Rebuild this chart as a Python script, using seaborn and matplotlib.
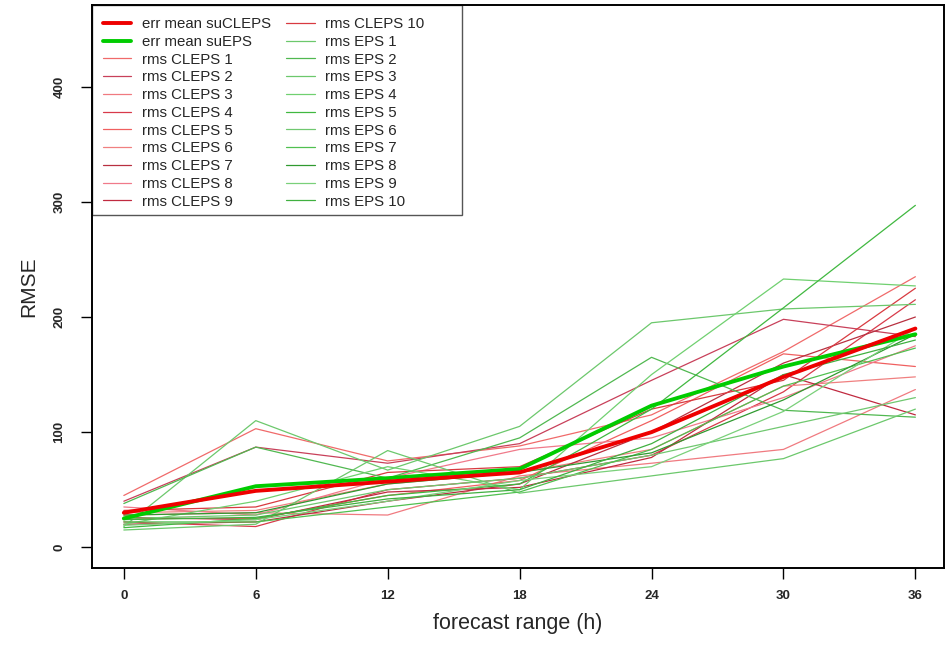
import matplotlib
matplotlib.use("Agg")
import matplotlib.pyplot as plt
from matplotlib.patches import Rectangle
import seaborn as sns

hours = [0, 6, 12, 18, 24, 30, 36]

mean_cleps = [30, 49, 57, 65, 100, 148, 190]
mean_eps = [25, 53, 60, 68, 123, 157, 185]

cleps = {
    "rms CLEPS 1": [45, 103, 75, 88, 115, 170, 235],
    "rms CLEPS 2": [40, 87, 73, 90, 145, 198, 183],
    "rms CLEPS 3": [28, 30, 28, 62, 73, 85, 137],
    "rms CLEPS 4": [22, 18, 50, 60, 80, 135, 215],
    "rms CLEPS 5": [25, 25, 45, 58, 110, 168, 157],
    "rms CLEPS 6": [30, 32, 55, 65, 85, 140, 148],
    "rms CLEPS 7": [20, 22, 40, 55, 100, 160, 200],
    "rms CLEPS 8": [35, 28, 60, 85, 95, 130, 175],
    "rms CLEPS 9": [26, 24, 48, 52, 78, 150, 115],
    "rms CLEPS 10": [32, 35, 65, 70, 120, 145, 225],
}
eps = {
    "rms EPS 1": [18, 110, 67, 105, 195, 207, 211],
    "rms EPS 2": [38, 87, 60, 95, 165, 119, 113],
    "rms EPS 3": [15, 20, 84, 47, 62, 77, 120],
    "rms EPS 4": [20, 40, 70, 50, 150, 233, 227],
    "rms EPS 5": [17, 25, 45, 55, 120, 208, 297],
    "rms EPS 6": [25, 28, 50, 60, 80, 105, 130],
    "rms EPS 7": [22, 22, 35, 48, 85, 140, 173],
    "rms EPS 8": [28, 30, 55, 65, 82, 128, 185],
    "rms EPS 9": [19, 24, 40, 58, 70, 118, 190],
    "rms EPS 10": [24, 26, 42, 50, 90, 150, 180],
}

red_shades = ["#f06a6a", "#c8405a", "#f07a80", "#d83a4a", "#f06060",
              "#f08080", "#b83040", "#f07a8a", "#c02a40", "#d83a40"]
green_shades = ["#6cc86c", "#50b850", "#6cc86c", "#70d070", "#40b840",
                "#70c870", "#50c050", "#309a30", "#7ad07a", "#40b040"]

sns.set_style("white")
plt.rcParams["font.family"] = ["Liberation Sans", "DejaVu Sans"]

fig = plt.figure(figsize=(9.47, 6.45), dpi=100)
ax = fig.add_axes([0.0971, 0.1194, 0.8997, 0.8728])

for (name, vals), col in zip(cleps.items(), red_shades):
    sns.lineplot(x=hours, y=vals, color=col, linewidth=0.9, ax=ax, label=name)
for (name, vals), col in zip(eps.items(), green_shades):
    sns.lineplot(x=hours, y=vals, color=col, linewidth=0.9, ax=ax, label=name)
sns.lineplot(x=hours, y=mean_eps, color="#00cc00", linewidth=2.8, ax=ax, label="err mean suEPS")
sns.lineplot(x=hours, y=mean_cleps, color="#ee0000", linewidth=2.8, ax=ax, label="err mean suCLEPS")

h, l = ax.get_legend_handles_labels()
lookup = dict(zip(l, h))
order = ["err mean suCLEPS", "err mean suEPS"] + list(cleps.keys()) + list(eps.keys())

# legend frame box (R-style, with extra right padding)
ax_w_px, ax_h_px = 852.0, 563.0
ax.add_patch(Rectangle((0, 1 - 210 / ax_h_px), 370 / ax_w_px, 210 / ax_h_px,
                       transform=ax.transAxes, facecolor="white",
                       edgecolor="#555555", linewidth=1.0, zorder=4.5,
                       clip_on=False))
leg = ax.legend([lookup[k] for k in order], order, loc="upper left", ncol=2,
                bbox_to_anchor=(11 / ax_w_px, 1 - 12 / ax_h_px), borderaxespad=0,
                fontsize=10.8, frameon=False, borderpad=0,
                labelspacing=0.25, handlelength=1.9, handletextpad=0.7,
                columnspacing=1.0)
leg.set_zorder(5)

ax.set_xlim(-1.45, 37.3)
ax.set_ylim(-18, 471)
ax.set_xticks(hours)
ax.set_xticklabels([str(v) for v in hours])
ax.set_yticks([0, 100, 200, 300, 400])
ax.set_yticklabels(["0", "100", "200", "300", "400"], rotation=90, va="center")
ax.tick_params(axis="both", direction="out", length=8, width=1, color="black",
               labelsize=9.5, bottom=True, left=True)
ax.tick_params(axis="x", pad=8)
ax.tick_params(axis="y", pad=11)
for t in ax.get_xticklabels() + ax.get_yticklabels():
    t.set_fontweight("bold")
for s in ax.spines.values():
    s.set_color("black")
    s.set_linewidth(1.4)
    s.set_zorder(6)

ax.set_xlabel("forecast range (h)", fontsize=15.5, labelpad=8)
ax.set_ylabel("RMSE", fontsize=15, labelpad=11)

fig.savefig("out.png", dpi=100)
